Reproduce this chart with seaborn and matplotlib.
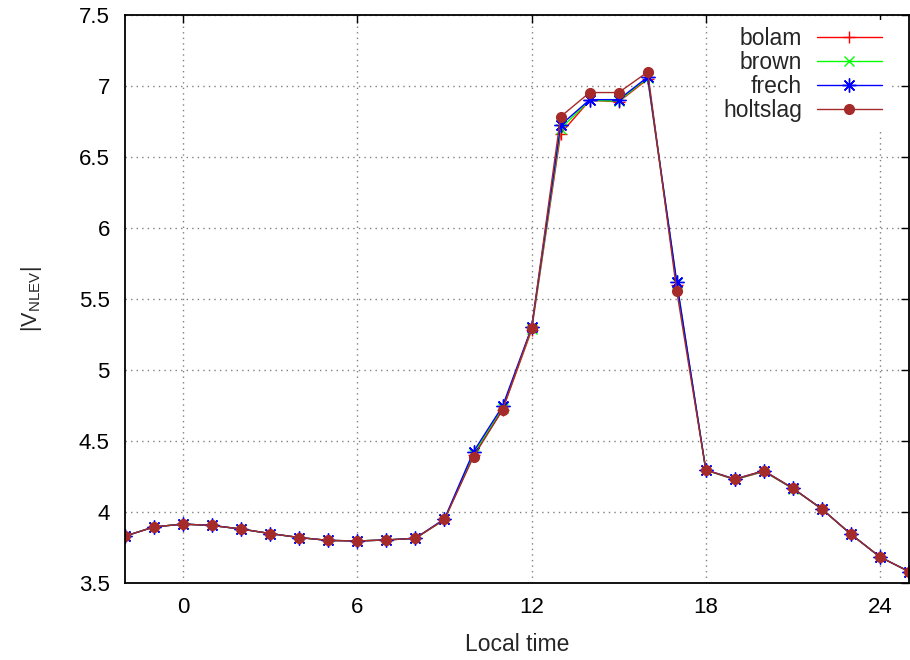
import matplotlib
matplotlib.use("Agg")
import matplotlib.pyplot as plt
import seaborn as sns

# ── data ─────────────────────────────────────────────────────────────────────
hours = [-2, -1, 0, 1, 2, 3, 4, 5, 6, 7, 8, 9, 10, 11, 12, 13,
         14, 15, 16, 17, 18, 19, 20, 21, 22, 23, 24, 25]

bolam = [3.83, 3.895, 3.915, 3.905, 3.88, 3.848, 3.82, 3.80, 3.796, 3.803,
         3.815, 3.945, 4.40, 4.72, 5.28, 6.665, 6.90, 6.89, 7.05, 5.60,
         4.295, 4.228, 4.285, 4.165, 4.02, 3.843, 3.683, 3.58]
brown = [3.83, 3.895, 3.915, 3.905, 3.88, 3.848, 3.82, 3.80, 3.796, 3.803,
         3.815, 3.948, 4.41, 4.73, 5.29, 6.70, 6.90, 6.895, 7.06, 5.61,
         4.295, 4.23, 4.287, 4.165, 4.02, 3.843, 3.683, 3.58]
frech = [3.83, 3.895, 3.915, 3.905, 3.88, 3.848, 3.82, 3.80, 3.796, 3.803,
         3.815, 3.952, 4.425, 4.745, 5.30, 6.725, 6.905, 6.905, 7.065, 5.62,
         4.297, 4.232, 4.29, 4.167, 4.021, 3.843, 3.683, 3.58]
holtslag = [3.83, 3.895, 3.915, 3.905, 3.88, 3.848, 3.82, 3.80, 3.796, 3.803,
            3.815, 3.948, 4.39, 4.72, 5.295, 6.785, 6.955, 6.955, 7.10, 5.555,
            4.296, 4.232, 4.291, 4.167, 4.021, 3.843, 3.683, 3.58]

x_ticks = [0, 6, 12, 18, 24]
y_ticks = [3.5, 4, 4.5, 5, 5.5, 6, 6.5, 7, 7.5]
y_tick_labels = ["3.5", "4", "4.5", "5", "5.5", "6", "6.5", "7", "7.5"]

# gnuplot-ish look
sns.set_style("white")
plt.rcParams["font.family"] = ["Liberation Sans", "DejaVu Sans"]

fig, ax = plt.subplots(figsize=(9.1, 6.6), dpi=100)
fig.subplots_adjust(left=0.1374, right=0.999, bottom=0.1167, top=0.977)

series = [
    ("bolam",    bolam,    "#ff0000", "+",       9,  None),
    ("brown",    brown,    "#00ff00", "x",       7,  None),
    ("frech",    frech,    "#0000ff", (8, 2, 0), 10, None),
    ("holtslag", holtslag, "#a52a2a", "o",       7,  "#a52a2a"),
]
for name, vals, col, mk, ms, fc in series:
    sns.lineplot(x=hours, y=vals, ax=ax, color=col, linewidth=1.0,
                 marker=mk, markersize=ms, markeredgewidth=1.0,
                 markerfacecolor=fc if fc else col, markeredgecolor=col,
                 label=name)

ax.set_xlim(-2, 25)
ax.set_ylim(3.5, 7.5)
ax.set_xticks(x_ticks)
ax.set_yticks(y_ticks)
ax.set_yticklabels(y_tick_labels)
ax.grid(True, color="#808080", linestyle=(0, (1, 3)), linewidth=1.0)
ax.set_axisbelow(True)

for sp in ax.spines.values():
    sp.set_visible(True)
    sp.set_color("black")
    sp.set_linewidth(1.3)
ax.tick_params(direction="in", length=6, width=1.0, top=True, right=True,
               labelsize=16, colors="black")
ax.tick_params(axis="y", pad=11)
ax.tick_params(axis="x", pad=10)

ax.set_xlabel("Local time", fontsize=16.5, labelpad=11)
ax.set_ylabel(r"|V$_{\mathregular{NLEV}}$|", fontsize=15.5, labelpad=25)

leg = ax.legend(loc="upper right", bbox_to_anchor=(0.989, 1.012),
                markerfirst=False, fontsize=16.5, handlelength=2.85,
                handletextpad=0.65, labelspacing=0.05, borderpad=0.3,
                frameon=True, fancybox=False, framealpha=1.0)
leg.get_frame().set_edgecolor("none")
leg.get_frame().set_facecolor("white")

fig.savefig("out.png", dpi=100)
